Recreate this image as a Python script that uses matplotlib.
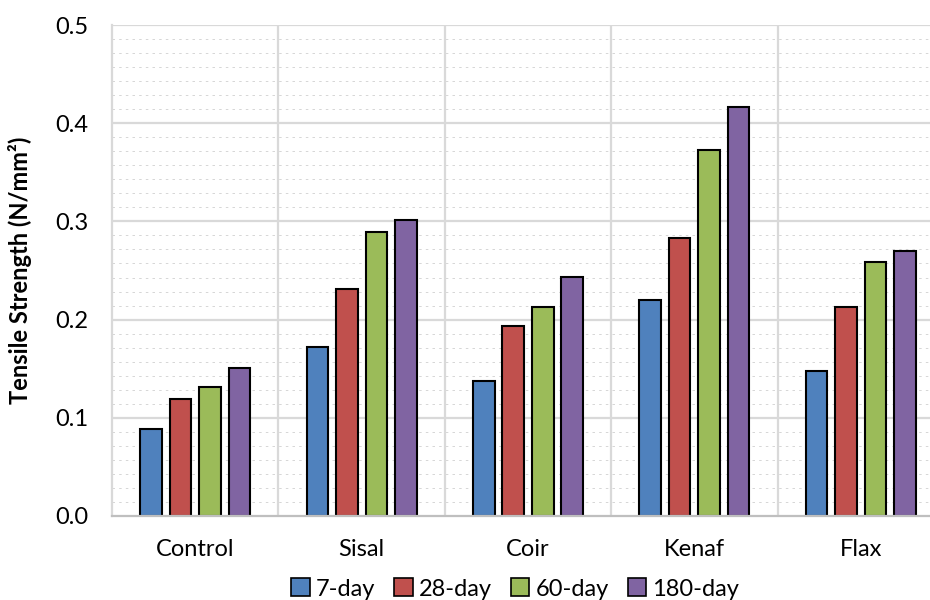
import numpy as np
import matplotlib.pyplot as plt
from matplotlib.patches import Patch

plt.rcParams['font.family'] = ['Lato', 'DejaVu Sans']

fibres = ["Control", "Sisal", "Coir", "Kenaf", "Flax"]
ages = ["7-day", "28-day", "60-day", "180-day"]
day7 = [0.089, 0.172, 0.137, 0.220, 0.148]
day28 = [0.119, 0.231, 0.193, 0.283, 0.213]
day60 = [0.131, 0.289, 0.213, 0.373, 0.259]
day180 = [0.151, 0.301, 0.243, 0.417, 0.270]
colors = ["#4F81BD", "#C0504D", "#9BBB59", "#8064A2"]

fig = plt.figure(figsize=(9.3, 6), dpi=100)
# plot area runs a little past the right edge, as in the source image
ax = fig.add_axes([112 / 930, 1 - 516 / 600, (944 - 112) / 930, (516 - 25) / 600])

x = np.arange(len(fibres))
pitch = 0.177
width = 0.13
series = [day7, day28, day60, day180]
for i, vals in enumerate(series):
    ax.bar(x + (i - 1.5) * pitch, vals, width, color=colors[i],
           edgecolor="black", linewidth=1.5, zorder=3)

ax.set_xlim(-0.5, len(fibres) - 0.5)
ax.set_ylim(0, 0.5)
ax.set_yticks(np.arange(0, 0.51, 0.1))
ax.set_yticklabels(["0.0", "0.1", "0.2", "0.3", "0.4", "0.5"])
ax.set_xticks(x)
ax.set_xticklabels(fibres)
ax.tick_params(length=0, labelsize=17, pad=16.5)
ax.tick_params(axis="y", pad=17)

# dotted pattern fill of the plot area
minor = np.arange(0, 0.5, 0.1 / 7)
for yv in minor:
    ax.axhline(yv, color="#d0d0d0", lw=0.6, ls=(0, (3, 5)), zorder=1)
for yv in np.arange(0.1, 0.51, 0.1):
    ax.axhline(yv, color="#d9d9d9", lw=1.6, zorder=2)
for xv in np.arange(0.5, len(fibres) - 0.5, 1):
    ax.axvline(xv, color="#d9d9d9", lw=1.6, zorder=2)

for s in ["top", "right"]:
    ax.spines[s].set_visible(False)
ax.spines["left"].set_color("#d9d9d9")
ax.spines["left"].set_linewidth(1.6)
ax.spines["bottom"].set_color("#bfbfbf")
ax.spines["bottom"].set_linewidth(1.6)
ax.spines["bottom"].set_zorder(4)

ax.set_ylabel("Tensile Strength (N/mm²)", fontsize=17, fontweight="bold")
ax.yaxis.set_label_coords(-0.096, 0.5)

handles = [Patch(facecolor=c, edgecolor="black", linewidth=1.2) for c in colors]
fig.legend(handles, ages, loc="center", bbox_to_anchor=(515 / 930, 1 - 589 / 600),
           ncol=4, frameon=False, fontsize=17, handlelength=0.8, handleheight=0.8,
           handletextpad=0.25, columnspacing=0.8)

fig.savefig("out.png", dpi=100)
